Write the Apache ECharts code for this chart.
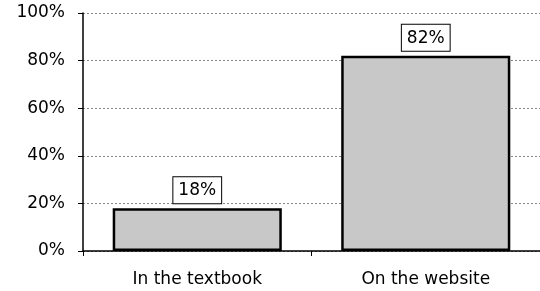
<!DOCTYPE html>
<html>
<head>
<meta charset="utf-8">
<script src="https://cdn.jsdelivr.net/npm/echarts@6/dist/echarts.min.js"></script>
<style>
  html, body { margin: 0; padding: 0; background: #fff; }
  #chart { width: 540px; height: 291px; }
</style>
</head>
<body>
<div id="chart"></div>
<script>
const categories = ['In the textbook', 'On the website'];
const values = [18, 82];
const yTicks = [0, 20, 40, 60, 80, 100];

const font = 'DejaVu Sans';
const myChart = echarts.init(document.getElementById('chart'));

const option = {
  animation: false,
  grid: {
    left: 83,
    right: -3,
    top: 13,
    bottom: 40
  },
  xAxis: {
    type: 'category',
    data: categories,
    axisLine: { lineStyle: { color: '#000', width: 1.5 } },
    axisTick: { show: true, length: 5, lineStyle: { color: '#000' } },
    axisLabel: { color: '#000', fontFamily: font, fontSize: 17, margin: 20 }
  },
  yAxis: {
    type: 'value',
    min: 0,
    max: 100,
    interval: 20,
    axisLine: { show: true, lineStyle: { color: '#000', width: 1.5 } },
    axisTick: { show: true, length: 5, lineStyle: { color: '#000' } },
    axisLabel: {
      color: '#000',
      fontFamily: font,
      fontSize: 17,
      margin: 18,
      formatter: (v) => yTicks.includes(v) ? v + '%' : ''
    },
    splitLine: {
      show: true,
      lineStyle: { color: '#888', type: [2, 2], width: 1 }
    }
  },
  series: [
    {
      type: 'bar',
      data: values,
      barCategoryGap: '26%',
      itemStyle: {
        color: '#c8c8c8',
        borderColor: '#000',
        borderWidth: 2.5
      },
      label: {
        show: true,
        position: 'top',
        distance: 5,
        formatter: '{c}%',
        color: '#000',
        fontFamily: font,
        fontSize: 17,
        backgroundColor: '#fff',
        borderColor: '#000',
        borderWidth: 1,
        padding: [5, 5, 4, 5]
      }
    }
  ]
};

myChart.setOption(option);
</script>
</body>
</html>
